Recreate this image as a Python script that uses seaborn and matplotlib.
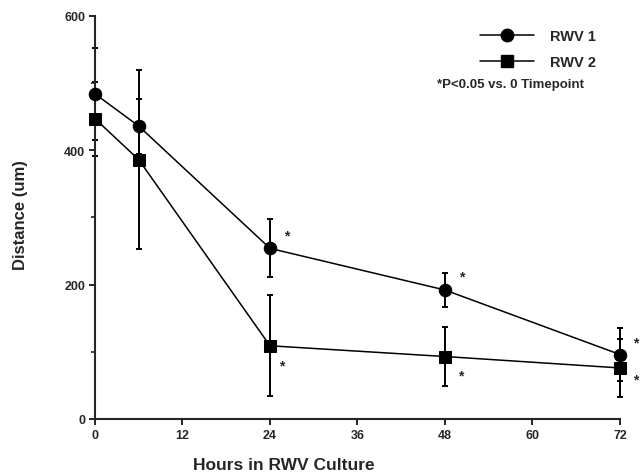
import numpy as np
import pandas as pd
import matplotlib
matplotlib.use("Agg")
import matplotlib.pyplot as plt
import seaborn as sns
from matplotlib.ticker import MultipleLocator
from matplotlib.lines import Line2D

# Hours in rotating-wall-vessel culture
hours = [0, 6, 24, 48, 72]

# Mean distance (um) and error (um) for each vessel
rwv1_mean = [484, 436, 254, 192, 96]
rwv1_err = [68, 41, 43, 26, 39]
rwv2_mean = [447, 386, 109, 93, 76]
rwv2_err = [55, 133, 75, 44, 43]

series_names = ["RWV 1", "RWV 2"]
x_ticks = [0, 12, 24, 36, 48, 60, 72]
y_ticks = [0, 200, 400, 600]

# Time points flagged as significant vs. 0 h
sig_hours = [24, 48, 72]

df = pd.DataFrame({
    "Hours": hours * 2,
    "Distance": rwv1_mean + rwv2_mean,
    "Err": rwv1_err + rwv2_err,
    "Vessel": [series_names[0]] * len(hours) + [series_names[1]] * len(hours),
})

sns.set_style("ticks")
plt.rcParams["font.family"] = ["Liberation Sans", "DejaVu Sans"]
plt.rcParams["font.weight"] = "bold"

fig = plt.figure(figsize=(6.41, 4.77), dpi=100)
ax = fig.add_axes([0.1482, 0.1195, 0.819, 0.845])

markers = {series_names[0]: "o", series_names[1]: "s"}
sizes = {series_names[0]: 9, series_names[1]: 8.5}

# Error bars first so markers sit on top
for name in series_names:
    sub = df[df["Vessel"] == name]
    ax.errorbar(sub["Hours"], sub["Distance"], yerr=sub["Err"], fmt="none",
                ecolor="black", elinewidth=1.4, capsize=2.5, capthick=1.4,
                clip_on=False, zorder=2)

sns.lineplot(data=df, x="Hours", y="Distance", hue="Vessel", style="Vessel",
             palette=["black", "black"], markers=markers, dashes=False,
             linewidth=1.1, markersize=9, markeredgecolor="black",
             legend=False, ax=ax, clip_on=False, zorder=3)
for line in ax.get_lines():
    line.set_clip_on(False)

# Significance stars beside each flagged point
star_offsets = {series_names[0]: (12, 9.5), series_names[1]: (8.5, -14)}
for name in series_names:
    sub = df[(df["Vessel"] == name) & (df["Hours"].isin(sig_hours))]
    for h, d in zip(sub["Hours"], sub["Distance"]):
        dx, dy = star_offsets[name]
        if h == 72:
            dx = 11
            dy = 8.5 if name == series_names[0] else -8.5
        elif h == 48 and name == series_names[1]:
            dx = 11
        ax.annotate("*", xy=(h, d), xytext=(dx, dy), textcoords="offset points",
                    ha="center", va="center", fontsize=10, fontweight="bold",
                    annotation_clip=False)

ax.set_xlim(0, 72)
ax.set_ylim(0, 600)
ax.set_xticks(x_ticks)
ax.set_yticks(y_ticks)
ax.yaxis.set_minor_locator(MultipleLocator(100))
ax.tick_params(axis="both", which="major", direction="out", length=4, width=1.4,
               labelsize=9, pad=3)
ax.tick_params(axis="y", which="minor", direction="out", length=3, width=1.2)
for lbl in ax.get_xticklabels() + ax.get_yticklabels():
    lbl.set_fontweight("bold")

for side in ["top", "right"]:
    ax.spines[side].set_visible(False)
for side in ["left", "bottom"]:
    ax.spines[side].set_linewidth(1.5)

ax.set_xlabel("Hours in RWV Culture", fontsize=12.5, fontweight="bold",
              va="center")
ax.xaxis.set_label_coords(0.36, -0.112)
ax.set_ylabel("Distance (um)", fontsize=12, fontweight="bold", va="center")
ax.yaxis.set_label_coords(-0.141, 0.509)

handles = [Line2D([0], [0], color="black", linewidth=1.1, marker=markers[n],
                  markersize=sizes[n]) for n in series_names]
leg = ax.legend(handles, series_names, loc="upper left",
                bbox_to_anchor=(0.733, 0.968), frameon=False, handlelength=3.7,
                prop={"weight": "bold", "size": 10.5}, labelspacing=0.85,
                handletextpad=1.1, borderaxespad=0, borderpad=0)
fig.text(0.681, 0.822, "*P<0.05 vs. 0 Timepoint", fontsize=9.5,
         fontweight="bold", va="center", ha="left")

fig.savefig("out.png", dpi=100)
